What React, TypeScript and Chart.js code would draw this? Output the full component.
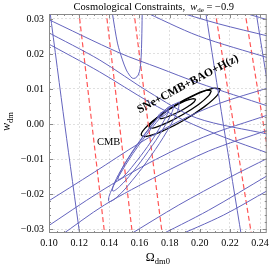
import React, { useEffect, useRef } from "react";
import { Chart, registerables } from "chart.js";

Chart.register(...registerables);

// ---- axes ----
const X_MIN = 0.1;
const X_MAX = 0.2444;
const Y_MIN = -0.0311;
const Y_MAX = 0.0314;
const X_TICKS = [0.1, 0.12, 0.14, 0.16, 0.18, 0.2, 0.22, 0.24];
const Y_TICKS = [-0.03, -0.02, -0.01, 0.0, 0.01, 0.02, 0.03];

// ---- red dashed constraint lines ----
const RED_1 = [[0.1197, 0.0324], [0.1371, -0.0321]];
const RED_2 = [[0.1378, 0.0324], [0.1555, -0.0321]];
const RED_3 = [[0.1562, 0.0324], [0.1753, -0.0321]];
const RED_4 = [[0.2101, 0.0324], [0.2345, -0.0321]];
const RED_5 = [[0.2298, 0.0324], [0.246, -0.01]];

// ---- blue near-vertical lines ----
const VERT_1 = [[0.1005, 0.0325], [0.1105, -0.0003], [0.1207, -0.0325]];
const VERT_2 = [[0.2037, 0.0325], [0.2157, -0.0003], [0.2278, -0.0325]];
const VERT_3 = [[0.2371, 0.0325], [0.244, 0.014], [0.246, 0.009]];

// ---- blue U-shaped contour (top) ----
const U_CURVE = [
  [0.1417, 0.0326], [0.1421, 0.0314], [0.1454, 0.0231], [0.1487, 0.0183],
  [0.1513, 0.0154], [0.1533, 0.014], [0.1552, 0.0131], [0.1572, 0.0131],
  [0.1592, 0.014], [0.1605, 0.016], [0.1611, 0.0191], [0.1615, 0.024],
  [0.1618, 0.0314], [0.1618, 0.0326],
];

// ---- blue descending lines ----
const DESC_1 = [[0.0974, 0.0303], [0.1467, 0.0203], [0.173, 0.016], [0.1993, 0.0117], [0.2453, 0.0051]];
const DESC_2 = [[0.0974, 0.0266], [0.1335, 0.0183], [0.1664, 0.0091], [0.198, 0.0017], [0.2453, -0.0029]];
const DESC_3 = [[0.0974, 0.0234], [0.1335, 0.0149], [0.1664, 0.0063], [0.1894, 0.0011], [0.2157, -0.0037], [0.2453, -0.0083]];
const TOP_1 = [[0.1605, 0.0326], [0.1993, 0.0251], [0.2453, 0.0189]];
const TOP_2 = [[0.1809, 0.0326], [0.2124, 0.0286], [0.2453, 0.0251]];
const TOP_3 = [[0.2223, 0.0326], [0.2453, 0.0297]];

// ---- blue ascending lines ----
const ASC_1 = [[0.0974, -0.0226], [0.1302, -0.0137], [0.1598, -0.0055], [0.1861, 0.0008], [0.2124, 0.0058], [0.2453, 0.0103]];
const ASC_2 = [[0.0974, -0.0297], [0.1335, -0.0194], [0.1664, -0.0111], [0.2026, -0.0037], [0.2453, 0.0026]];
const ASC_3 = [[0.1072, -0.032], [0.1368, -0.0231], [0.173, -0.0146], [0.2059, -0.0077], [0.2453, -0.0017]];
const LOW_1 = [[0.1519, -0.032], [0.1861, -0.0231], [0.219, -0.0154], [0.2453, -0.0097]];
const LOW_2 = [[0.1697, -0.0326], [0.2059, -0.0246], [0.2453, -0.0146]];
const LOW_3 = [[0.1815, -0.0326], [0.2157, -0.026], [0.2453, -0.0189]];

// ---- CMB closed contours (blue) ----
const CMB_1 = [
  [0.1864, 0.0063], [0.1854, 0.0038], [0.1785, -0.0019], [0.1674, -0.0092],
  [0.1552, -0.0161], [0.1452, -0.0208], [0.1398, -0.0221], [0.1408, -0.0195],
  [0.1478, -0.0138], [0.1588, -0.0065], [0.1711, 0.0004], [0.1811, 0.0051], [0.1864, 0.0063],
];
const CMB_2 = [
  [0.1827, 0.0056], [0.1817, 0.0035], [0.1755, -0.0015], [0.1658, -0.0078],
  [0.1553, -0.0138], [0.1467, -0.0179], [0.1423, -0.0191], [0.1433, -0.0169],
  [0.1494, -0.012], [0.1591, -0.0057], [0.1697, 0.0004], [0.1782, 0.0045], [0.1827, 0.0056],
];
const CMB_3 = [
  [0.1796, 0.0047], [0.1786, 0.0029], [0.1734, -0.0011], [0.1654, -0.0064],
  [0.1566, -0.0114], [0.1496, -0.0149], [0.146, -0.0158], [0.1469, -0.0141],
  [0.1521, -0.01], [0.1602, -0.0048], [0.169, 0.0002], [0.176, 0.0037], [0.1796, 0.0047],
];
const CMB_4 = [
  [0.172, 0.002], [0.1736, 0.003], [0.1763, 0.0036], [0.1792, 0.0039],
  [0.1776, 0.0029], [0.175, 0.0021], [0.172, 0.002],
];

// ---- joint SNe+CMB+BAO+H(z) contours (black) ----
const JOINT_1 = [
  [0.2136, 0.0101], [0.2114, 0.0081], [0.2029, 0.0049], [0.1903, 0.0013],
  [0.1769, -0.0017], [0.1663, -0.0034], [0.1613, -0.0032], [0.1635, -0.0013],
  [0.172, 0.0019], [0.1846, 0.0055], [0.198, 0.0085], [0.2086, 0.0102], [0.2136, 0.0101],
];
const JOINT_2 = [
  [0.2077, 0.0095], [0.2059, 0.0081], [0.1992, 0.0056], [0.1891, 0.0028],
  [0.1785, 0.0004], [0.1703, -0.001], [0.1665, -0.001], [0.1683, 0.0005],
  [0.1751, 0.0029], [0.1851, 0.0058], [0.1957, 0.0082], [0.204, 0.0096], [0.2077, 0.0095],
];
const JOINT_3 = [
  [0.1973, 0.0071], [0.1962, 0.0063], [0.1922, 0.005], [0.1862, 0.0035],
  [0.18, 0.0023], [0.1752, 0.0016], [0.173, 0.0017], [0.1741, 0.0025],
  [0.1781, 0.0038], [0.1841, 0.0053], [0.1903, 0.0066], [0.1951, 0.0072], [0.1973, 0.0071],
];

// ---- annotations ----
const LABEL_CMB = { text: "CMB", x: 0.1395, y: -0.0051 };
const LABEL_JOINT = { text: "SNe+CMB+BAO+H(z)", x: 0.1921, y: 0.0114, angle: -28 };

const BLUE = "rgb(100,100,190)";
const RED = "rgb(255,85,85)";
const SERIF = "'Liberation Serif', 'DejaVu Serif', serif";

const toPts = (arr: number[][]) => arr.map(([x, y]) => ({ x, y }));
const ds = (arr: number[][], color: string, width: number, dash: number[] = [], tension = 0.35) => ({
  data: toPts(arr),
  showLine: true,
  pointRadius: 0,
  pointHoverRadius: 0,
  borderColor: color,
  backgroundColor: color,
  borderWidth: width,
  borderDash: dash,
  tension,
  fill: false,
});

type Part = { t: string; f: string; dy?: number };
function drawParts(ctx: CanvasRenderingContext2D, parts: Part[], cx: number, y: number) {
  let total = 0;
  for (const p of parts) {
    ctx.font = p.f;
    total += ctx.measureText(p.t).width;
  }
  let x = cx - total / 2;
  ctx.textAlign = "left";
  ctx.textBaseline = "alphabetic";
  for (const p of parts) {
    ctx.font = p.f;
    ctx.fillText(p.t, x, y + (p.dy || 0));
    x += ctx.measureText(p.t).width;
  }
}

const framePlugin = {
  id: "mmaFrame",
  afterDraw(chart: any) {
    const { ctx, chartArea, scales } = chart;
    const { left, top, right, bottom } = chartArea;
    const xs = scales.x;
    const ys = scales.y;
    ctx.save();
    ctx.strokeStyle = "#8a8a8a";
    ctx.lineWidth = 1;
    ctx.strokeRect(left + 0.5, top + 0.5, right - left - 1, bottom - top - 1);
    ctx.beginPath();
    for (let i = 0; i <= 40; i++) {
      const v = X_MIN + i * 0.005;
      if (v > X_MAX) break;
      const major = i % 4 === 0;
      const px = Math.round(xs.getPixelForValue(v)) + 0.5;
      const len = major ? 4 : 2;
      ctx.moveTo(px, bottom);
      ctx.lineTo(px, bottom - len);
      ctx.moveTo(px, top);
      ctx.lineTo(px, top + len);
    }
    for (let i = -16; i <= 16; i++) {
      const v = i * 0.002;
      if (v < Y_MIN || v > Y_MAX) continue;
      const major = i % 5 === 0;
      const py = Math.round(ys.getPixelForValue(v)) + 0.5;
      const len = major ? 4 : 2;
      ctx.moveTo(left, py);
      ctx.lineTo(left + len, py);
      ctx.moveTo(right, py);
      ctx.lineTo(right - len, py);
    }
    ctx.stroke();

    ctx.fillStyle = "#000";
    drawParts(
      ctx,
      [
        { t: "Cosmological Constraints,  ", f: `10.5px ${SERIF}` },
        { t: "w", f: `italic 10.5px ${SERIF}` },
        { t: "de", f: `7px ${SERIF}`, dy: 2 },
        { t: " = \u22120.9", f: `10.5px ${SERIF}` },
      ],
      (left + right) / 2 - 4,
      top - 4
    );
    drawParts(
      ctx,
      [
        { t: "\u03A9", f: `12px ${SERIF}` },
        { t: "dm0", f: `8.5px ${SERIF}`, dy: 3 },
      ],
      (left + right) / 2,
      bottom + 28
    );
    ctx.save();
    ctx.translate(10, (top + bottom) / 2 - 2);
    ctx.rotate(-Math.PI / 2);
    drawParts(
      ctx,
      [
        { t: "w", f: `italic 12px ${SERIF}` },
        { t: "dm", f: `8.5px ${SERIF}`, dy: 3 },
      ],
      0,
      0
    );
    ctx.restore();

    ctx.font = `10.5px ${SERIF}`;
    ctx.textAlign = "center";
    ctx.textBaseline = "middle";
    ctx.fillText(LABEL_CMB.text, xs.getPixelForValue(LABEL_CMB.x), ys.getPixelForValue(LABEL_CMB.y));
    ctx.save();
    ctx.translate(xs.getPixelForValue(LABEL_JOINT.x), ys.getPixelForValue(LABEL_JOINT.y));
    ctx.rotate((LABEL_JOINT.angle * Math.PI) / 180);
    ctx.font = `bold 11.5px ${SERIF}`;
    ctx.fillText(LABEL_JOINT.text, 0, 0);
    ctx.restore();
    ctx.restore();
  },
};

export default function App() {
  const ref = useRef<HTMLCanvasElement>(null);
  useEffect(() => {
    if (!ref.current) return;
    const blueLines = [
      VERT_1, VERT_2, VERT_3, U_CURVE, DESC_1, DESC_2, DESC_3, TOP_1, TOP_2, TOP_3,
      ASC_1, ASC_2, ASC_3, LOW_1, LOW_2, LOW_3,
    ];
    const cmb = [CMB_1, CMB_2, CMB_3, CMB_4];
    const reds = [RED_1, RED_2, RED_3, RED_4, RED_5];
    const joint = [JOINT_1, JOINT_2, JOINT_3];
    const datasets = [
      ...blueLines.map((a) => ds(a, BLUE, 1, [], 0.3)),
      ...cmb.map((a) => ds(a, BLUE, 1, [], 0.4)),
      ...reds.map((a) => ds(a, RED, 1.2, [5, 3], 0)),
      ...joint.map((a) => ds(a, "#000", 1.3, [], 0.4)),
    ];
    const chart = new Chart(ref.current, {
      type: "scatter",
      data: { datasets },
      options: {
        responsive: false,
        animation: false,
        devicePixelRatio: 1,
        layout: { padding: { top: 14, right: 5, left: 0, bottom: 0 } },
        plugins: { legend: { display: false }, tooltip: { enabled: false }, title: { display: false } },
        events: [],
        scales: {
          x: {
            type: "linear",
            min: X_MIN,
            max: X_MAX,
            afterBuildTicks: (s: any) => {
              s.ticks = X_TICKS.map((v) => ({ value: v }));
            },
            afterFit: (s: any) => {
              s.height = 35;
            },
            ticks: {
              callback: (v: any) => Number(v).toFixed(2),
              font: { family: SERIF, size: 10 },
              color: "#000",
              padding: 4,
              maxRotation: 0,
              autoSkip: false,
            },
            grid: { color: "rgba(0,0,0,0.12)", drawTicks: false },
            border: { display: false, dash: [2, 2] },
          },
          y: {
            type: "linear",
            min: Y_MIN,
            max: Y_MAX,
            afterBuildTicks: (s: any) => {
              s.ticks = Y_TICKS.map((v) => ({ value: v }));
            },
            afterFit: (s: any) => {
              s.width = 49;
            },
            ticks: {
              callback: (v: any) => {
                const n = Number(v);
                const t = Math.abs(n).toFixed(2);
                return n < -1e-9 ? "\u2212" + t : t;
              },
              font: { family: SERIF, size: 10 },
              color: "#000",
              padding: 5,
              autoSkip: false,
            },
            grid: { color: "rgba(0,0,0,0.12)", drawTicks: false },
            border: { display: false, dash: [2, 2] },
          },
        },
      },
      plugins: [framePlugin],
    } as any);
    return () => chart.destroy();
  }, []);
  return (
    <div style={{ position: "fixed", left: 0, top: 0, width: 273, height: 268, background: "#fff" }}>
      <canvas ref={ref} width={273} height={268} style={{ display: "block", width: 273, height: 268 }} />
    </div>
  );
}
